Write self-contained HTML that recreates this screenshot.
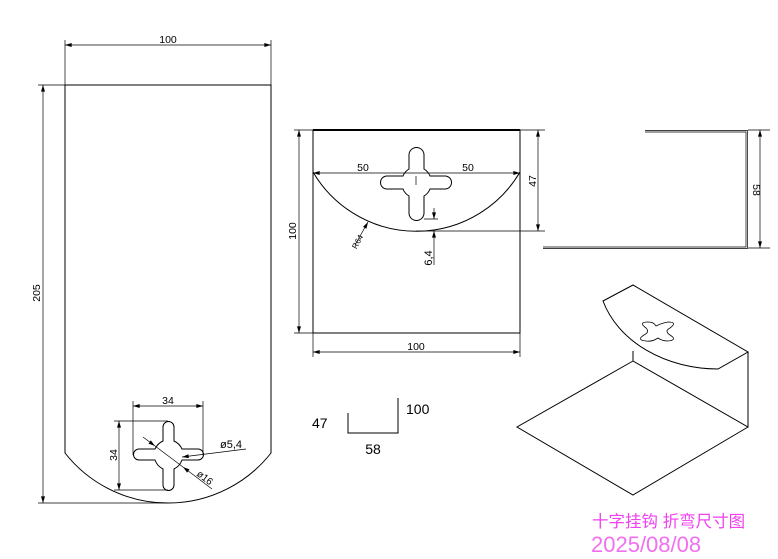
<!DOCTYPE html>
<html><head><meta charset="utf-8"><style>
html,body{margin:0;padding:0;background:#fff;}
svg{display:block;}
text{font-family:"Liberation Sans",sans-serif;fill:#000;}
</style></head><body>
<svg width="778" height="559" viewBox="0 0 778 559" xmlns="http://www.w3.org/2000/svg">
<defs>
<marker id="a" viewBox="0 0 10 6" refX="10" refY="3" markerWidth="8" markerHeight="4" orient="auto-start-reverse" markerUnits="userSpaceOnUse"><path d="M0,0L10,3L0,6z" fill="#000"/></marker>
</defs>
<g stroke="#000" fill="none" stroke-width="1">
<!-- left flat -->
<path d="M65,85H271V453A131,131 0 0 1 65,453Z"/>
<path d="M65,85V40M271,85V40M65,85H38M168,503H38" stroke-width="0.7"/>
<line x1="65" y1="45" x2="271" y2="45" marker-start="url(#a)" marker-end="url(#a)" stroke-width="0.7"/>
<line x1="43" y1="85" x2="43" y2="503" marker-start="url(#a)" marker-end="url(#a)" stroke-width="0.7"/>
<!-- cross left -->
<path d="M163,427 A5.5,5.5 0 0 1 174,427 V441 A16,16 0 0 1 182,449 H198 A5.5,5.5 0 0 1 198,460 H182 A16,16 0 0 1 174,469 V485 A5.5,5.5 0 0 1 163,485 V469 A16,16 0 0 1 155,460 H139 A5.5,5.5 0 0 1 139,449 H155 A16,16 0 0 1 163,441 Z"/>
<path d="M133,455V401M203,455V401M168,421H114M168,490H114" stroke-width="0.7"/>
<line x1="133" y1="406" x2="203" y2="406" marker-start="url(#a)" marker-end="url(#a)" stroke-width="0.7"/>
<line x1="119" y1="421" x2="119" y2="490" marker-start="url(#a)" marker-end="url(#a)" stroke-width="0.7"/>
<line x1="143" y1="437" x2="155" y2="446" marker-end="url(#a)" stroke-width="0.7"/>
<line x1="155" y1="446" x2="183" y2="467" stroke-width="0.7"/>
<line x1="212" y1="489" x2="183" y2="467" marker-end="url(#a)" stroke-width="0.7"/>
<line x1="246" y1="449" x2="182" y2="457" marker-end="url(#a)" stroke-width="0.7"/>
<!-- middle -->
<rect x="313" y="130" width="207" height="203"/>
<line x1="313" y1="130" x2="520" y2="130" stroke-width="2"/>
<path d="M313,172A120,120 0 0 0 520,172"/>
<path d="M409,155 A5.5,5.5 0 0 1 424,155 V169 A14,14 0 0 1 430,176 H445 A6,6 0 0 1 445,189 H430 A14,14 0 0 1 424,196 V213 A6,6 0 0 1 409,213 V196 A14,14 0 0 1 403,189 H387 A6,6 0 0 1 387,176 H403 A14,14 0 0 1 409,169 Z"/>
<line x1="313" y1="173" x2="416" y2="173" marker-start="url(#a)" stroke-width="0.7"/>
<line x1="416" y1="173" x2="520" y2="173" marker-end="url(#a)" stroke-width="0.7"/>
<line x1="416" y1="176" x2="416" y2="185" stroke-width="0.7"/>
<path d="M520,130H545M416,231H545M424,219H438M313,333V357M520,333V357M313,130H294M313,333H294" stroke-width="0.7"/>
<line x1="538" y1="130" x2="538" y2="231" marker-start="url(#a)" marker-end="url(#a)" stroke-width="0.7"/>
<line x1="434" y1="208" x2="434" y2="219" marker-end="url(#a)" stroke-width="0.7"/>
<line x1="434" y1="265" x2="434" y2="231" marker-end="url(#a)" stroke-width="0.7"/>
<line x1="355" y1="245" x2="368" y2="222" marker-end="url(#a)" stroke-width="0.7"/>
<line x1="299" y1="130" x2="299" y2="333" marker-start="url(#a)" marker-end="url(#a)" stroke-width="0.7"/>
<line x1="313" y1="352" x2="520" y2="352" marker-start="url(#a)" marker-end="url(#a)" stroke-width="0.7"/>
<!-- side -->
<path d="M645,130.5H747.5V248.5H543M645,132H746V247H543" stroke-width="0.7"/>
<path d="M748,130H770M748,248H770" stroke-width="0.7"/>
<line x1="760" y1="130" x2="760" y2="248" marker-start="url(#a)" marker-end="url(#a)" stroke-width="0.7"/>
<!-- small profile -->
<path d="M348,413V433H398V398"/>
<!-- iso -->
<path d="M603,301L633,285L748,352L718,369A120,95 0 0 1 603,301Z"/>
<path d="M748,352V427L633,361V351M633,361L517,427L633,495L748,427"/>
<path d="M646,328 q-8,-6 2,-6 q6,0 8,4 q6,-3 12,-4 q10,0 2,6 q-6,3 0,7 q8,5 -2,6 q-6,0 -10,-3 q-6,4 -12,3 q-10,-1 -2,-6 q6,-3 2,-7z" stroke-width="0.8"/>
</g>
<g font-size="10.5">
<text x="168" y="43" text-anchor="middle">100</text>
<text transform="translate(40,293) rotate(-90)" text-anchor="middle">205</text>
<text x="168" y="404" text-anchor="middle">34</text>
<text transform="translate(117,455) rotate(-90)" text-anchor="middle">34</text>
<text x="220" y="448" font-size="11">ø5,4</text>
<text transform="translate(196,475) rotate(38)" font-size="10">ø16</text>
<text x="363" y="171" text-anchor="middle">50</text>
<text x="468" y="171" text-anchor="middle">50</text>
<text transform="translate(536,181) rotate(-90)" text-anchor="middle">47</text>
<text transform="translate(432,258) rotate(-90)" text-anchor="middle" font-size="11">6,4</text>
<text transform="translate(360,243) rotate(-62)" text-anchor="middle" font-size="8">R64</text>
<text transform="translate(296,231) rotate(-90)" text-anchor="middle">100</text>
<text x="416" y="350" text-anchor="middle">100</text>
<text transform="translate(753,190) rotate(90)" text-anchor="middle">58</text>
<text x="312" y="428" font-size="14">47</text>
<text x="406" y="414" font-size="14">100</text>
<text x="373" y="454" text-anchor="middle" font-size="14">58</text>
</g>
<text x="592" y="527" font-size="16.5" style="fill:#f040f0;font-family:'Liberation Sans','Noto Sans CJK SC',sans-serif;">十字挂钩 折弯尺寸图</text>
<text x="591" y="552" font-size="22" style="fill:#f070f0;">2025/08/08</text>
</svg>
</body></html>
